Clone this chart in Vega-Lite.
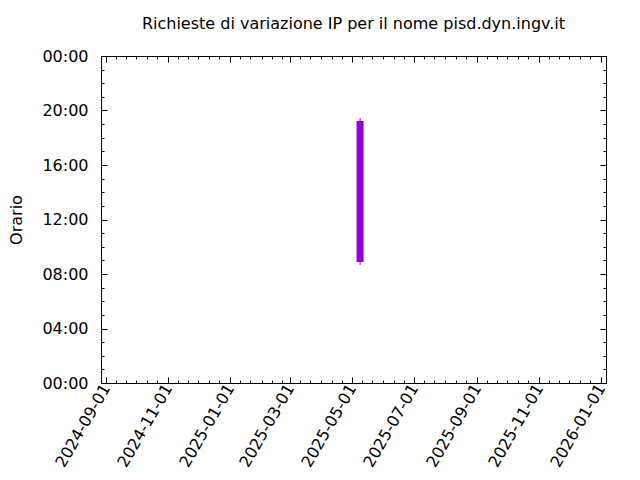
{
  "$schema": "https://vega.github.io/schema/vega-lite/v6.json",
  "width": 505,
  "height": 327,
  "autosize": {"type": "none"},
  "padding": {"left": 101, "top": 56, "right": 34, "bottom": 97},
  "title": {"text": "Richieste di variazione IP per il nome pisd.dyn.ingv.it", "fontSize": 16, "fontWeight": "normal", "font": "DejaVu Sans", "offset": 16, "color": "black"},
  "data": {"values": [{"date": "2025-05-09", "open": 8.88, "close": 19.23, "low": 8.66, "high": 19.45}]},
  "config": {
    "view": {"stroke": "black", "strokeWidth": 1},
    "axis": {"domainColor": "black", "tickColor": "black", "labelColor": "black", "titleColor": "black", "labelFont": "DejaVu Sans", "titleFont": "DejaVu Sans", "labelFontSize": 16, "titleFontSize": 16, "titleFontWeight": "normal", "grid": false, "labelOverlap": false, "labelBound": false, "labelFlush": false}
  },
  "layer": [
    {
      "mark": {"type": "bar", "color": "#9400D3", "size": 7},
      "encoding": {
        "x": {"field": "date", "type": "temporal", "scale": {"domain": ["2024-09-01", "2026-01-01"], "nice": false},
          "axis": {"orient": "bottom", "title": null, "tickCount": {"interval": "day", "step": 10},
            "labelExpr": "date(datum.value)==1 && month(datum.value)%2==0 ? timeFormat(datum.value, '%Y-%m-%d') : ''",
            "labelAngle": -60, "labelAlign": "right", "labelBaseline": "middle", "labelPadding": 8,
            "tickSize": {"condition": {"test": "date(datum.value)==1 && month(datum.value)%2==0", "value": -6}, "value": -3},
            "tickOpacity": {"condition": {"test": "date(datum.value)==31", "value": 0}, "value": 1}}},
        "y": {"field": "open", "type": "quantitative", "scale": {"domain": [0, 24], "nice": false, "zero": false},
          "axis": {"orient": "left", "title": "Orario", "titlePadding": 17, "values": [0,1,2,3,4,5,6,7,8,9,10,11,12,13,14,15,16,17,18,19,20,21,22,23,24],
            "labelExpr": "datum.value % 4 == 0 ? ((datum.value % 24) < 10 ? '0' : '') + (datum.value % 24) + ':00' : ''",
            "labelPadding": 19,
            "tickSize": {"condition": {"test": "datum.value % 4 == 0", "value": -6}, "value": -3}}},
        "y2": {"field": "close"}
      }
    },
    {
      "mark": {"type": "rule", "color": "#9400D3", "strokeWidth": 1},
      "encoding": {
        "x": {"field": "date", "type": "temporal",
          "axis": {"orient": "top", "title": null, "labels": false, "tickCount": {"interval": "day", "step": 10},
            "tickSize": {"condition": {"test": "date(datum.value)==1 && month(datum.value)%2==0", "value": -6}, "value": -3},
            "tickOpacity": {"condition": {"test": "date(datum.value)==31", "value": 0}, "value": 1}}},
        "y": {"field": "low", "type": "quantitative",
          "axis": {"orient": "right", "title": null, "labels": false, "values": [0,1,2,3,4,5,6,7,8,9,10,11,12,13,14,15,16,17,18,19,20,21,22,23,24],
            "tickSize": {"condition": {"test": "datum.value % 4 == 0", "value": -6}, "value": -3}}},
        "y2": {"field": "high"}
      }
    }
  ],
  "resolve": {"axis": {"x": "independent", "y": "independent"}}
}
